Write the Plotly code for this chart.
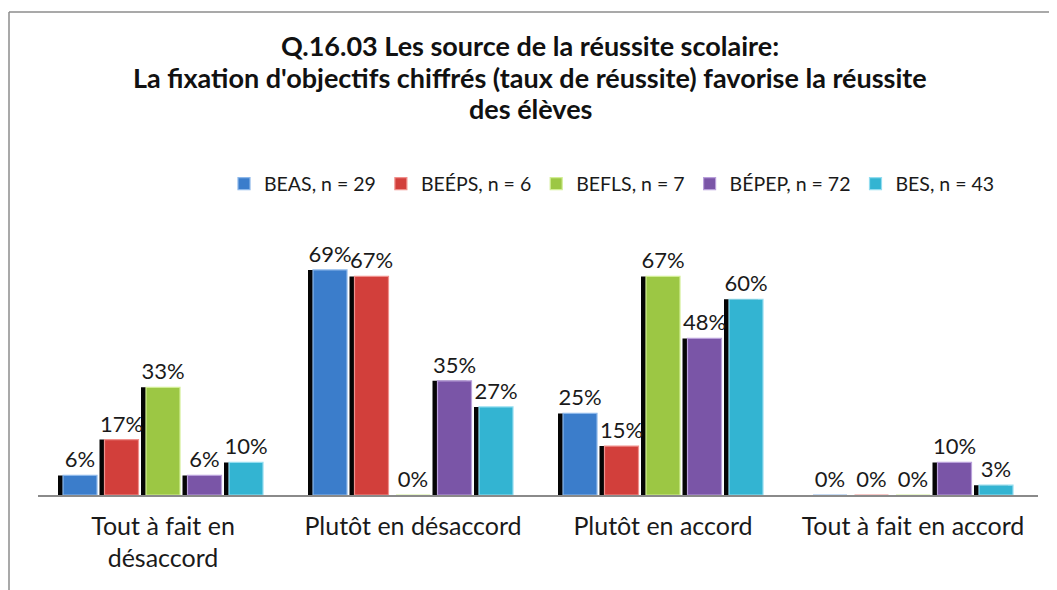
import plotly.graph_objects as go

categories = ["Tout à fait en<br>désaccord", "Plutôt en désaccord", "Plutôt en accord", "Tout à fait en accord"]
series_names = ["BEAS, n = 29", "BEÉPS, n = 6", "BEFLS, n = 7", "BÉPEP, n = 72", "BES, n = 43"]
beas = [6, 69, 25, 0]
beeps = [17, 67, 15, 0]
befls = [33, 0, 67, 0]
bepep = [6, 35, 48, 10]
bes = [10, 27, 60, 3]
values = [beas, beeps, befls, bepep, bes]
colors = ["#3B7DCB", "#D23F3B", "#9CC744", "#7A55A7", "#33B4D2"]
edge_colors = ["#8DB8EA", "#F0908C", "#D2EE95", "#B9A0DA", "#93DDF0"]

# page has an 8px body margin; work in figure coordinates
W, H = 1049, 582
L, R, T, B = 30, 19, 226, 95
plot_w = W - L - R
plot_h = H - T - B
px_per_cat = plot_w / 4.0

step = 41.5 / px_per_cat
bw = 34 / px_per_cat
shadow_dx = 5 / px_per_cat


def py2paper(py):
    return (H - B - py) / plot_h


def px2paper(px):
    return (px - L) / plot_w


fig = go.Figure()
for i, (name, vals, c, ec) in enumerate(zip(series_names, values, colors, edge_colors)):
    off = (i - 2) * step - bw / 2
    fig.add_trace(go.Bar(
        x=categories, y=vals, offset=off - shadow_dx, width=bw,
        marker=dict(color="#050505", line=dict(width=0)),
        showlegend=False, hoverinfo="skip",
    ))
for i, (name, vals, c, ec) in enumerate(zip(series_names, values, colors, edge_colors)):
    off = (i - 2) * step - bw / 2
    fig.add_trace(go.Bar(
        x=categories, y=vals, name=name, offset=off, width=bw,
        marker=dict(color=c, line=dict(width=1.2, color=ec)),
        text=[f"{v}%" for v in vals], textposition="outside",
        constraintext="none",
        textfont=dict(family="Lato", size=22, color="#1a1a1a"),
        cliponaxis=False,
    ))

fig.update_layout(
    width=W, height=H,
    margin=dict(l=L, r=R, t=T, b=B),
    paper_bgcolor="white", plot_bgcolor="white",
    barmode="overlay",
    font=dict(family="Lato", color="#1a1a1a"),
    showlegend=True,
    legend=dict(orientation="h", x=px2paper(216), xanchor="left",
                y=py2paper(176), yanchor="middle",
                font=dict(family="Lato", size=19.5, color="#1a1a1a"),
                traceorder="normal", itemwidth=30),
    xaxis=dict(showline=True, linecolor="#8a8a8a", linewidth=1.5,
               tickfont=dict(family="Lato", size=25, color="#1a1a1a"),
               ticks="", showgrid=False, ticklabelstandoff=8),
    yaxis=dict(range=[0, 80], visible=False, showgrid=False),
)

title_lines = [
    "Q.16.03 Les source de la réussite scolaire:",
    "La fixation d'objectifs chiffrés (taux de réussite) favorise la réussite",
    "des élèves",
]
title_y = [37, 69, 101]
for txt, py in zip(title_lines, title_y):
    fig.add_annotation(text=f"<b>{txt}</b>", xref="paper", yref="paper",
                       x=px2paper(522), y=py2paper(py),
                       xanchor="center", yanchor="middle", showarrow=False,
                       font=dict(family="Lato", size=27, color="#111111"))

# chart frame (partially cropped)
fx = px2paper(1)
fy = py2paper(4)
fig.add_shape(type="line", xref="paper", yref="paper", x0=fx, x1=fx, y0=fy, y1=-0.5,
              line=dict(color="#8c8c8c", width=1.5))
fig.add_shape(type="line", xref="paper", yref="paper", x0=fx, x1=1.1, y0=fy, y1=fy,
              line=dict(color="#8c8c8c", width=1.5))

fig.write_html("out.html")
